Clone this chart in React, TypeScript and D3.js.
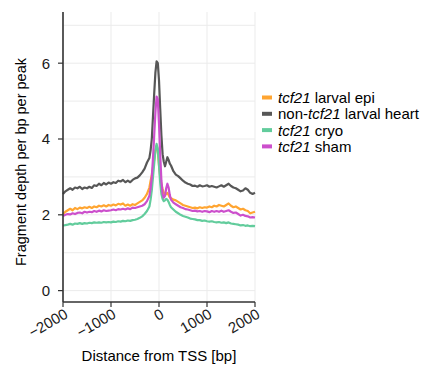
import React from 'react';
import * as d3 from 'd3';

// distance from TSS (bp)
const positions = [
  -2000, -1950, -1900, -1850, -1800, -1750, -1700, -1650, -1600, -1550, -1500, -1450, -1400, -1350, -1300, -1250, -1200,
  -1150, -1100, -1050, -1000, -950, -900, -850, -800, -750, -700, -650, -600, -550, -500, -450, -400, -350,
  -300, -250, -200, -175, -150, -125, -100, -75, -50, -25, 0, 25, 50, 75, 100, 125, 150, 175, 200, 225, 250, 300,
  350, 400, 450, 500, 550, 600, 650, 700, 750, 800, 850, 900, 950, 1000, 1050, 1100, 1150, 1200, 1250, 1300, 1350,
  1400, 1450, 1500, 1550, 1600, 1650, 1700, 1750, 1800, 1850, 1900, 1950, 2000,
];

const larvalEpi = [
  2.02, 2.08, 2.12, 2.16, 2.12, 2.18, 2.15, 2.19, 2.17, 2.2, 2.18, 2.21, 2.18, 2.22, 2.2, 2.24, 2.22,
  2.25, 2.22, 2.26, 2.24, 2.27, 2.25, 2.29, 2.27, 2.3, 2.24, 2.27, 2.24, 2.28, 2.26, 2.3, 2.34, 2.38,
  2.45, 2.55, 2.72, 2.9, 3.05, 3.25, 3.45, 3.68, 3.82, 3.7, 3.3, 3.0, 2.82, 2.68, 2.58, 2.52, 2.55, 2.58, 2.52, 2.46, 2.44, 2.4,
  2.38, 2.34, 2.3, 2.26, 2.24, 2.22, 2.2, 2.18, 2.19, 2.17, 2.2, 2.18, 2.2, 2.19, 2.22, 2.2, 2.24, 2.22, 2.26, 2.24, 2.22,
  2.26, 2.3, 2.24, 2.2, 2.22, 2.18, 2.14, 2.16, 2.12, 2.1, 2.04, 2.06, 2.08,
];

const larvalHeart = [
  2.55, 2.62, 2.66, 2.7, 2.66, 2.72, 2.7, 2.74, 2.68, 2.72, 2.7, 2.74, 2.71, 2.78, 2.76, 2.82, 2.78,
  2.84, 2.8, 2.85, 2.82, 2.86, 2.84, 2.9, 2.88, 2.92, 2.86, 2.9, 2.86, 2.92, 2.96, 2.98, 3.04, 3.12,
  3.22, 3.38, 3.5, 3.7, 4.0, 4.6, 5.2, 5.75, 6.05, 6.0, 5.55, 4.8, 4.1, 3.6, 3.4, 3.28, 3.4, 3.52, 3.45, 3.35, 3.3, 3.15,
  3.06, 3.02, 2.96, 2.9, 2.85, 2.82, 2.8, 2.76, 2.77, 2.74, 2.78, 2.75, 2.76, 2.78, 2.74, 2.76, 2.74, 2.72, 2.75, 2.78, 2.74,
  2.78, 2.82, 2.76, 2.72, 2.7, 2.66, 2.62, 2.64, 2.7, 2.66, 2.58, 2.55, 2.58,
];

const cryo = [
  1.71, 1.73, 1.74, 1.76, 1.74, 1.77, 1.76, 1.78, 1.76, 1.78, 1.77, 1.79, 1.78, 1.8, 1.79, 1.8, 1.79,
  1.81, 1.8, 1.81, 1.8, 1.82, 1.81, 1.83, 1.82, 1.84, 1.83, 1.85, 1.84, 1.86, 1.87, 1.89, 1.92, 1.96,
  2.02, 2.1, 2.22, 2.4, 2.65, 3.0, 3.35, 3.7, 3.87, 3.75, 3.3, 2.85, 2.55, 2.42, 2.36, 2.38, 2.42, 2.4, 2.34, 2.26, 2.2, 2.14,
  2.08, 2.04, 2.0, 1.97, 1.95, 1.93, 1.9, 1.89, 1.88, 1.86, 1.86, 1.84, 1.85, 1.83, 1.82, 1.83, 1.81, 1.8, 1.81, 1.79, 1.8,
  1.78, 1.8, 1.77, 1.76, 1.75, 1.74, 1.72, 1.73, 1.71, 1.72, 1.7, 1.71, 1.7,
];

const sham = [
  1.97, 2.0, 2.02, 2.01, 2.04, 2.02, 2.05, 2.06, 2.04, 2.08, 2.06, 2.08, 2.07, 2.1, 2.08, 2.11, 2.09,
  2.12, 2.1, 2.11, 2.12, 2.14, 2.12, 2.15, 2.14, 2.16, 2.14, 2.17, 2.15, 2.19, 2.18, 2.2, 2.22, 2.24,
  2.28, 2.36, 2.5, 2.7, 3.0, 3.5, 4.1, 4.7, 5.12, 5.05, 4.4, 3.6, 2.9, 2.55, 2.45, 2.5, 2.7, 2.82, 2.72, 2.52, 2.4, 2.32,
  2.28, 2.24, 2.2, 2.18, 2.15, 2.14, 2.12, 2.1, 2.11, 2.09, 2.1, 2.08, 2.1, 2.09, 2.07, 2.1, 2.08, 2.1, 2.08, 2.11, 2.08,
  2.1, 2.12, 2.08, 2.05, 2.06, 2.02, 1.98, 2.0, 1.97, 1.96, 1.93, 1.94, 1.93,
];

const seriesList = [
  { pre: '', it: 'tcf21', post: ' larval epi', values: larvalEpi, color: '#ffa531' },
  { pre: 'non-', it: 'tcf21', post: ' larval heart', values: larvalHeart, color: '#575757' },
  { pre: '', it: 'tcf21', post: ' cryo', values: cryo, color: '#62cc9c' },
  { pre: '', it: 'tcf21', post: ' sham', values: sham, color: '#cc4fcc' },
];

const xTicks = [-2000, -1000, 0, 1000, 2000];
const yTicks = [0, 2, 4, 6];
const yGrid = [0, 1, 2, 3, 4, 5, 6, 7];

const font = 'Liberation Sans, Arial, sans-serif';

export default function App() {
  const width = 423;
  const height = 373;
  const left = 63, right = 255, top = 12, bottom = 302;

  const x = d3.scaleLinear().domain([-2000, 2000]).range([left, right]);
  const y = d3.scaleLinear().domain([-0.3, 7.35]).range([bottom, top]);

  const line = d3.line<number>()
    .x((_, i) => x(positions[i]))
    .y((d) => y(d));

  return (
    <svg width={width} height={height} style={{ position: 'absolute', left: 0, top: 0 }} fontFamily={font}>
      <rect width={width} height={height} fill="white" />
      {yGrid.map((v) => (
        <line key={'gy' + v} x1={left} x2={right} y1={y(v)} y2={y(v)} stroke="#ebebeb" strokeWidth={1} />
      ))}
      {xTicks.map((v) => (
        <line key={'gx' + v} x1={x(v)} x2={x(v)} y1={top} y2={bottom} stroke="#ebebeb" strokeWidth={1} />
      ))}

      {seriesList.map((s) => (
        <path key={s.post} d={line(s.values) || ''} fill="none" stroke={s.color} strokeWidth={2.2} strokeLinejoin="round" />
      ))}

      {/* axes */}
      <line x1={left} x2={left} y1={top} y2={bottom} stroke="#333" strokeWidth={1.6} />
      <line x1={left} x2={right} y1={bottom} y2={bottom} stroke="#333" strokeWidth={1.6} />
      {yTicks.map((v) => (
        <g key={'yt' + v}>
          <line x1={left - 5} x2={left} y1={y(v)} y2={y(v)} stroke="#333" strokeWidth={1.2} />
          <text x={left - 13} y={y(v)} dy="0.36em" textAnchor="end" fontSize={15} fill="#1a1a1a">{v}</text>
        </g>
      ))}
      {xTicks.map((v) => (
        <g key={'xt' + v}>
          <line x1={x(v)} x2={x(v)} y1={bottom} y2={bottom + 5} stroke="#333" strokeWidth={1.2} />
          <text
            transform={`translate(${x(v) + 6},${bottom + 15}) rotate(-30)`}
            textAnchor="end"
            fontSize={15}
            fill="#1a1a1a"
          >
            {d3.format('')(v).replace('-', '\u2212')}
          </text>
        </g>
      ))}

      <text x={(left + right) / 2} y={361} textAnchor="middle" fontSize={15} fill="#000">
        Distance from TSS [bp]
      </text>
      <text transform={`translate(26,${(top + bottom) / 2 + 5}) rotate(-90)`} textAnchor="middle" fontSize={14.5} fill="#000">
        Fragment depth per bp per peak
      </text>

      {/* legend */}
      {seriesList.map((s, i) => {
        const ly = 97.5 + i * 16.3;
        return (
          <g key={'lg' + i}>
            <line x1={262} x2={272} y1={ly} y2={ly} stroke={s.color} strokeWidth={4} />
            <text x={278} y={ly} dy="0.36em" fontSize={15} fill="#000">
              {s.pre}
              <tspan fontStyle="italic">{s.it}</tspan>
              {s.post}
            </text>
          </g>
        );
      })}
    </svg>
  );
}
